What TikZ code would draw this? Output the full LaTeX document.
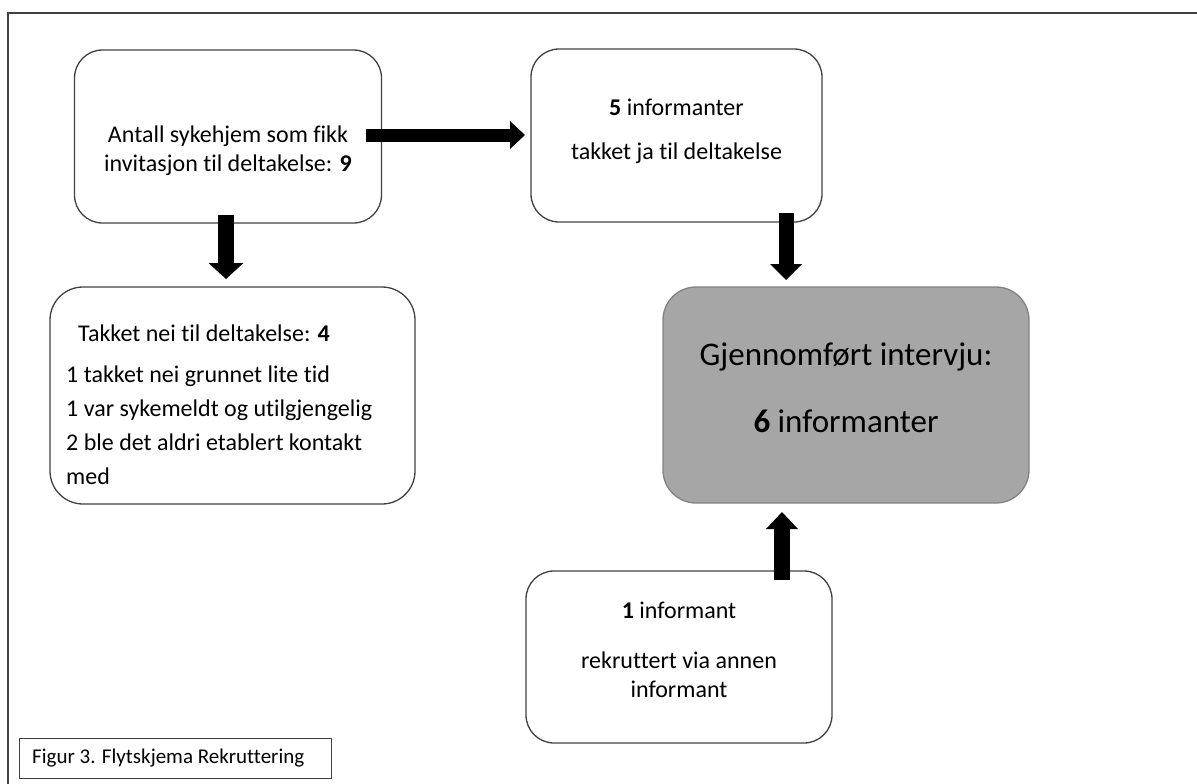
\documentclass[tikz,border=0pt]{standalone}
\usepackage{fontspec}
\setmainfont{Carlito}[Ligatures=NoCommon]
\usetikzlibrary{arrows.meta}

\definecolor{boxline}{RGB}{64,64,64}
\definecolor{greyfill}{RGB}{166,166,166}
\definecolor{greyline}{RGB}{130,130,130}

\tikzset{
  box/.style={draw=boxline, line width=1.3pt, rounded corners=28pt, inner sep=0pt},
  txt/.style={font=\fontsize{24}{29.3}\selectfont, inner sep=0pt},
  bigtxt/.style={font=\fontsize{33}{40}\selectfont, inner sep=0pt},
  fatarrow/.style={line width=#1, draw=black}
}

\begin{document}
\begin{tikzpicture}[x=1pt, y=-1pt]
  \useasboundingbox (0,0) rectangle (1197,784);

  % ramme
  \draw[boxline, line width=1.3pt] (8,784) -- (8,13) -- (1197,13);

  % bokser
  \node[box, minimum width=307pt, minimum height=173pt] (inv) at (228,136.5) {};
  \node[box, minimum width=291pt, minimum height=173pt] (ja) at (676.5,135.5) {};
  \node[box, minimum width=365pt, minimum height=217pt, rounded corners=33pt] (nei) at (232.5,395.5) {};
  \node[box, draw=greyline, fill=greyfill, minimum width=366pt, minimum height=216pt, rounded corners=33pt] (intervju) at (846,395) {};
  \node[box, minimum width=306pt, minimum height=172pt] (via) at (679,657) {};
  \node[draw=boxline, line width=1pt, minimum width=312pt, minimum height=40pt, inner sep=0pt] (fig) at (175,758) {};

  % piler
  \coordinate (h1) at (366,135);
  \coordinate (h2) at (525,135);
  \coordinate (v1) at (226,215);
  \coordinate (v2) at (226,279);
  \coordinate (r1) at (786,213);
  \coordinate (r2) at (786,280);
  \coordinate (u1) at (782,580);
  \coordinate (u2) at (782,512);
  \draw[fatarrow=13pt, -{Triangle[length=15pt, width=28pt, line width=0pt]}] (h1) -- (h2);
  \draw[fatarrow=16pt, -{Triangle[length=16pt, width=35pt, line width=0pt]}] (v1) -- (v2);
  \draw[fatarrow=15pt, -{Triangle[length=16pt, width=32pt, line width=0pt]}] (r1) -- (r2);
  \draw[fatarrow=16pt, -{Triangle[length=17pt, width=32pt, line width=0pt]}] (u1) -- (u2);

  % tekst
  \node[txt, align=center] (invtxt) at (228,151) {Antall sykehjem som fikk\\invitasjon til deltakelse: \textbf{9}};
  \node[txt] (ja1) at (676.5,107) {\textbf{5} informanter};
  \node[txt] (ja2) at (676.5,153) {takket ja til deltakelse};
  \node[txt, anchor=west] (nei1) at (78,333) {Takket nei til deltakelse: \textbf{4}};
  \node[txt, anchor=west, align=left, font=\fontsize{24}{34}\selectfont] (nei2) at (66,425) {1 takket nei grunnet lite tid\\1 var sykemeldt og utilgjengelig\\2 ble det aldri etablert kontakt\\med};
  \node[bigtxt] (int1) at (846,357) {Gjennomført intervju:};
  \node[bigtxt] (int2) at (846,421) {\textbf{6} informanter};
  \node[txt] (via1) at (679,610) {\textbf{1} informant};
  \node[txt, align=center] (via2) at (679,675) {rekruttert via annen\\informant};
  \node[font=\fontsize{21}{25}\selectfont, inner sep=0pt, anchor=west] (figtxt) at (32,758) {Figur 3. Flytskjema Rekruttering};
\end{tikzpicture}
\end{document}
